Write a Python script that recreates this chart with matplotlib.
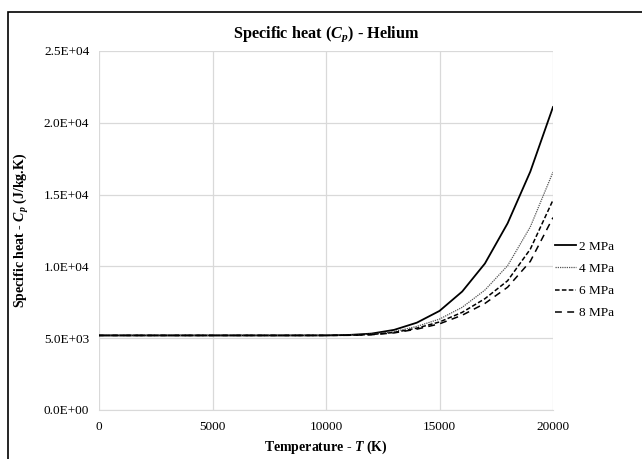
import matplotlib
matplotlib.use("Agg")
import matplotlib.pyplot as plt
from matplotlib.patches import Rectangle
from matplotlib.ticker import FuncFormatter, MultipleLocator

plt.rcParams['font.family'] = ['Liberation Serif', 'DejaVu Serif']
plt.rcParams['mathtext.fontset'] = 'custom'
plt.rcParams['mathtext.rm'] = 'Liberation Serif'
plt.rcParams['mathtext.it'] = 'Liberation Serif:italic'
plt.rcParams['mathtext.bf'] = 'Liberation Serif:bold'
plt.rcParams['mathtext.bfit'] = 'Liberation Serif:bold:italic'

# Temperature (K)
temperature = [0, 2000, 4000, 6000, 8000, 10000, 11000, 12000, 13000, 14000,
               15000, 16000, 17000, 18000, 19000, 20000]
# Specific heat (J/kg.K)
cp_2mpa = [5193, 5193, 5193, 5193, 5193, 5196, 5225, 5320, 5580, 6080,
           6900, 8250, 10200, 13000, 16600, 21100]
cp_4mpa = [5193, 5193, 5193, 5193, 5193, 5195, 5212, 5280, 5460, 5820,
           6330, 7150, 8350, 10050, 12750, 16570]
cp_6mpa = [5193, 5193, 5193, 5193, 5193, 5194, 5206, 5255, 5400, 5700,
           6130, 6800, 7750, 9000, 11200, 14620]
cp_8mpa = [5193, 5193, 5193, 5193, 5193, 5194, 5202, 5240, 5370, 5630,
           6000, 6600, 7420, 8550, 10350, 13400]
labels = ["2 MPa", "4 MPa", "6 MPa", "8 MPa"]

fig = plt.figure(figsize=(6.42, 4.59), dpi=100)
ax = fig.add_axes([99/642, 1-410/459, (553-99)/642, (410-51)/459])

ax.plot(temperature, cp_2mpa, color='black', lw=1.3, ls='-', label=labels[0])
ax.plot(temperature, cp_4mpa, color='#555555', lw=0.9, ls=(0, (1, 0.8)), label=labels[1])
ax.plot(temperature, cp_6mpa, color='black', lw=1.1, ls=(0, (3, 1.5)), label=labels[2])
ax.plot(temperature, cp_8mpa, color='black', lw=1.1, ls=(0, (4.5, 3.5)), label=labels[3])

ax.set_xlim(0, 20000)
ax.set_ylim(0, 25000)
ax.xaxis.set_major_locator(MultipleLocator(5000))
ax.yaxis.set_major_locator(MultipleLocator(5000))
ax.yaxis.set_major_formatter(FuncFormatter(lambda v, p: f"{v:.1E}"))
ax.grid(True, color='#d9d9d9', lw=0.9)
ax.set_axisbelow(True)
for s in ['top', 'right', 'left']:
    ax.spines[s].set_visible(False)
ax.spines['bottom'].set_color('#d9d9d9')
ax.tick_params(length=0, labelsize=9.5, pad=8)
ax.tick_params(axis='y', pad=7)

ax.set_title(r"Specific heat ($\mathbfit{C_p}$) - Helium", fontsize=11.7, fontweight='bold', pad=10)
ax.set_xlabel(r"Temperature - $\mathbfit{T}$ (K)", fontsize=10, fontweight='bold', labelpad=4)
ax.set_ylabel(r"Specific heat - $\mathbfit{C_p}$ (J/kg.K)", fontsize=10, fontweight='bold')
ax.yaxis.set_label_coords((31-99)/454, 0.5)

fig.legend(loc='center left', bbox_to_anchor=(555/642, 1-280/459), frameon=False,
           fontsize=9.5, handlelength=1.6, handletextpad=0.2, labelspacing=0.75,
           borderaxespad=0, borderpad=0)

fig.patches.append(Rectangle((8/642, -0.1), 1.2, 1-12/459+0.1, transform=fig.transFigure,
                             fill=False, edgecolor='black', lw=1.2))

fig.savefig("out.png", dpi=100)
